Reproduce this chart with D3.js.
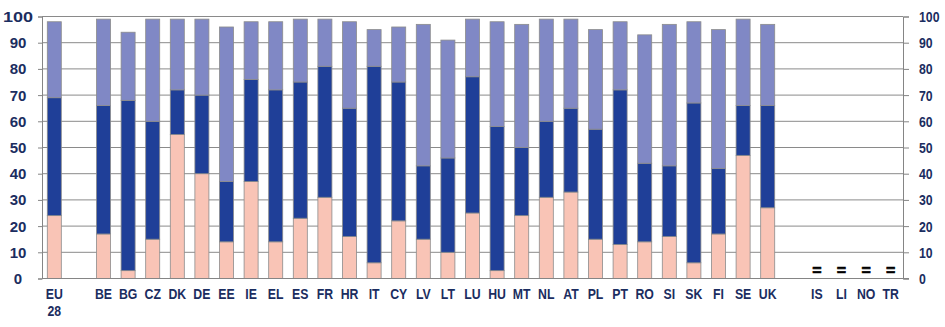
<!DOCTYPE html>
<html>
<head>
<meta charset="utf-8">
<script src="https://cdn.jsdelivr.net/npm/d3@7"></script>
<style>
  html, body { margin: 0; padding: 0; background: #ffffff; }
  svg { display: block; }
  text { font-family: "Liberation Sans", Arial, sans-serif; font-weight: bold; fill: #1b2d60; }
</style>
</head>
<body>
<svg id="chart" width="945" height="327"></svg>
<script>
// Country codes along the axis ("" = empty slot used as a spacer)
const categories = ["EU 28", "", "BE", "BG", "CZ", "DK", "DE", "EE", "IE", "EL", "ES", "FR", "HR",
  "IT", "CY", "LV", "LT", "LU", "HU", "MT", "NL", "AT", "PL", "PT", "RO", "SI", "SK", "FI",
  "SE", "UK", "", "IS", "LI", "NO", "TR"];

// Stacked segments (%), bottom to top; null = no bar
const seriesLower = [24, null, 17, 3, 15, 55, 40, 14, 37, 14, 23, 31, 16, 6, 22, 15, 10, 25, 3, 24,
  31, 33, 15, 13, 14, 16, 6, 17, 47, 27, null, null, null, null, null];
const seriesMiddle = [45, null, 49, 65, 45, 17, 30, 23, 39, 58, 52, 50, 49, 75, 53, 28, 36, 52, 55, 26,
  29, 32, 42, 59, 30, 27, 61, 25, 19, 39, null, null, null, null, null];
const seriesUpper = [29, null, 33, 26, 39, 27, 29, 59, 22, 26, 24, 18, 33, 14, 21, 54, 45, 22, 40, 47,
  39, 34, 38, 26, 49, 54, 31, 53, 33, 31, null, null, null, null, null];

// Marker shown for countries without bars
const noDataMarks = { IS: "=", LI: "=", NO: "=", TR: "=" };

const yTicks = [0, 10, 20, 30, 40, 50, 60, 70, 80, 90, 100];
const seriesColors = ["#f9c4b6", "#1f3f98", "#8088c5"];

const svg = d3.select("#chart");
const plotLeft = 42, plotRight = 903, plotTop = 16.5, plotBottom = 278.5;
const narrow = 0.82; // horizontal squeeze for condensed labels
const wideTop = 1.2;  // the three-digit label on the left is set wider

const slotIds = categories.map((c, i) => i);
const x = d3.scaleBand().domain(slotIds).range([plotLeft, plotRight]).paddingInner(0.43).paddingOuter(0.215);
const y = d3.scaleLinear().domain([0, 100]).range([plotBottom, plotTop]);

// Gridlines
svg.append("g").selectAll("line").data(yTicks).join("line")
  .attr("x1", plotLeft).attr("x2", plotRight)
  .attr("y1", d => y(d)).attr("y2", d => y(d))
  .attr("stroke", "#8a8a8a").attr("stroke-width", 1);

// Left and right axes with outward ticks
const axisColor = "#858585";
const leftAxis = svg.append("g").attr("transform", `translate(${plotLeft},0)`)
  .call(d3.axisLeft(y).tickValues(yTicks).tickSize(4).tickFormat(""));
const rightAxis = svg.append("g").attr("transform", `translate(${plotRight},0)`)
  .call(d3.axisRight(y).tickValues(yTicks).tickSize(6).tickFormat(""));
[leftAxis, rightAxis].forEach(a => {
  a.select(".domain").attr("stroke", axisColor);
  a.selectAll(".tick line").attr("stroke", axisColor);
});

// Tick labels
svg.append("g").selectAll("text").data(yTicks).join("text")
  .attr("transform", d => `translate(18,${y(d)}) scale(${d >= 100 ? wideTop : 1},1)`)
  .attr("dy", "0.36em")
  .attr("text-anchor", "middle").attr("font-size", 15)
  .text(d => d);
svg.append("g").selectAll("text").data(yTicks).join("text")
  .attr("transform", d => `translate(919,${y(d)}) scale(${narrow},1)`)
  .attr("dy", "0.36em")
  .attr("text-anchor", "start").attr("font-size", 15)
  .text(d => d);

// Stacked bars
const rows = categories.map((c, i) => ({
  slot: i, lower: seriesLower[i] || 0, middle: seriesMiddle[i] || 0, upper: seriesUpper[i] || 0
}));
const stacked = d3.stack().keys(["lower", "middle", "upper"])(rows);

svg.append("g").selectAll("g").data(stacked).join("g")
  .attr("fill", (d, i) => seriesColors[i])
  .selectAll("rect").data(d => d.filter(s => s[1] > s[0])).join("rect")
  .attr("x", d => x(d.data.slot))
  .attr("width", x.bandwidth())
  .attr("y", d => y(d[1]))
  .attr("height", d => y(d[0]) - y(d[1]))
  .attr("stroke", "#8c8c8c").attr("stroke-width", 0.8);

// Baseline
svg.append("line").attr("x1", plotLeft).attr("x2", plotRight + 6)
  .attr("y1", y(0)).attr("y2", y(0)).attr("stroke", axisColor);

// Markers for countries without data
svg.append("g").selectAll("text").data(categories.map((c, i) => ({ c, i })).filter(d => noDataMarks[d.c]))
  .join("text")
  .attr("x", d => x(d.i) + x.bandwidth() / 2)
  .attr("y", y(0) - 2.5)
  .attr("text-anchor", "middle").attr("font-size", 16)
  .style("fill", "#000")
  .style("stroke", "#000").style("stroke-width", 0.6)
  .text(d => noDataMarks[d.c]);

// Category labels (two lines where needed)
const catLabels = svg.append("g").selectAll("text")
  .data(categories.map((c, i) => ({ c, i })).filter(d => d.c !== ""))
  .join("text")
  .attr("transform", d => `translate(${x(d.i) + x.bandwidth() / 2},298.5) scale(${narrow},1)`)
  .attr("text-anchor", "middle").attr("font-size", 15);
catLabels.each(function (d) {
  const t = d3.select(this);
  d.c.split(" ").forEach((part, k) => {
    t.append("tspan").attr("x", 0)
      .attr("dy", k === 0 ? 0 : 18).text(part);
  });
});
</script>
</body>
</html>
